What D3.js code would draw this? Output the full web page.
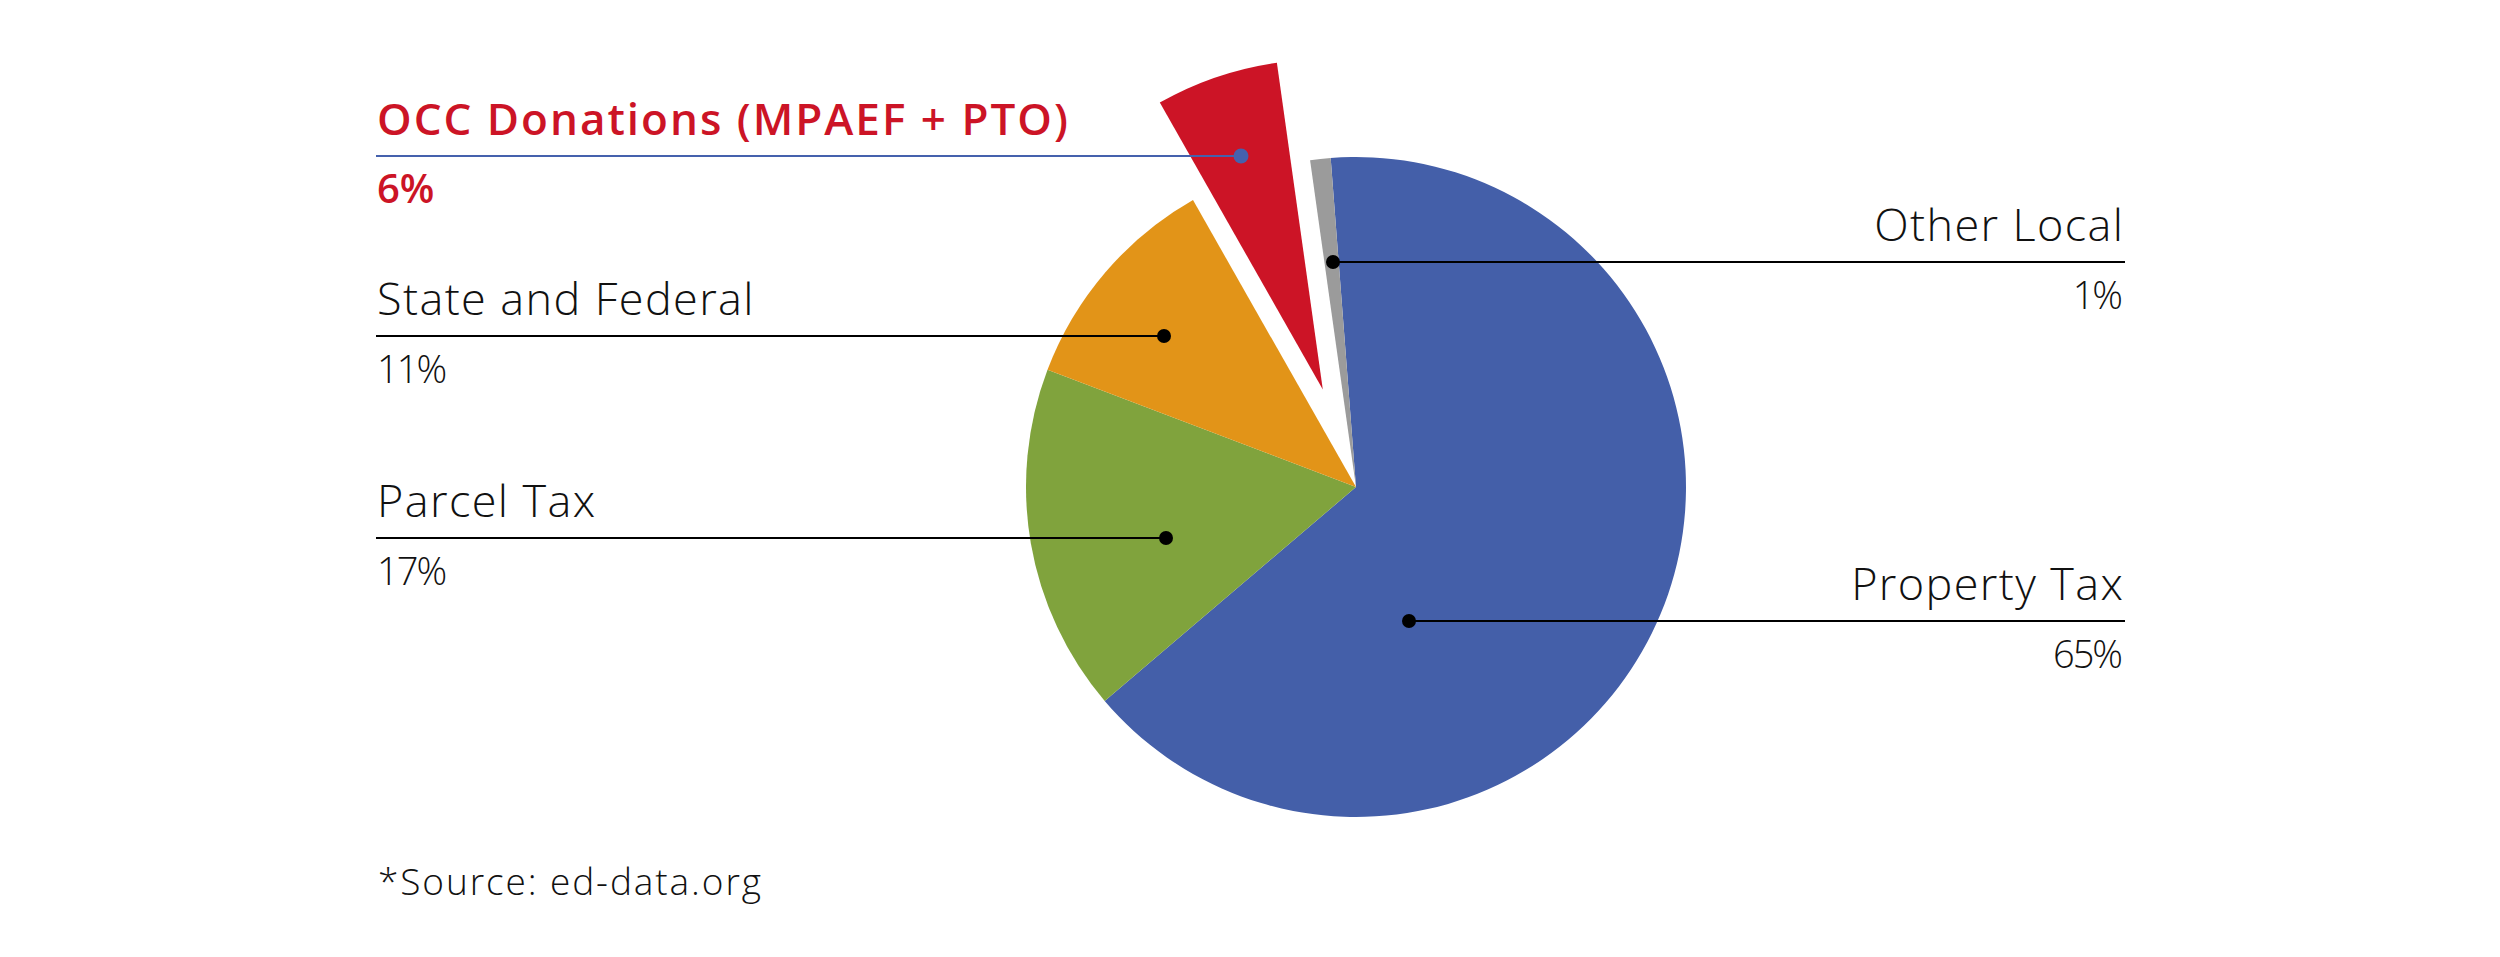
<!DOCTYPE html>
<html>
<head>
<meta charset="utf-8">
<script src="https://cdn.jsdelivr.net/npm/d3@7"></script>
<style>
  html, body { margin: 0; padding: 0; background: #ffffff; }
  svg { display: block; }
</style>
</head>
<body>
<svg id="chart" width="2500" height="957"></svg>
<script>
// ---- data ----
const categories = ["Property Tax", "Parcel Tax", "State and Federal", "OCC Donations (MPAEF + PTO)", "Other Local"];
const values = [65, 17, 11, 6, 1];
const percentLabels = ["65%", "17%", "11%", "6%", "1%"];
const sliceColors = ["#445fa9", "#80a33d", "#e29418", "#cc1426", "#9b9b9b"];
const sourceNote = "*Source: ed-data.org";

// ---- layout ----
const W = 2500, H = 957;
const cx = 1356, cy = 487, R = 330;
const startDeg = -4.4;
const explodedIndex = 3;
const explodeDist = 103;
const leftX = 376, rightX = 2125;
const labelLayout = {
  "Property Tax": { side: "right", lineY: 621, dotX: 1409 },
  "Other Local": { side: "right", lineY: 262, dotX: 1333 },
  "Parcel Tax": { side: "left", lineY: 538, dotX: 1166 },
  "State and Federal": { side: "left", lineY: 336, dotX: 1164 },
  "OCC Donations (MPAEF + PTO)": { side: "left", lineY: 156, dotX: 1241, highlight: true }
};

const svg = d3.select("#chart");
const fontFamily = "'Open Sans', Lato, 'Noto Sans', sans-serif";

const data = categories.map((c, i) => ({ name: c, value: values[i], pct: percentLabels[i], color: sliceColors[i], i }));

const start = startDeg * Math.PI / 180;
const pie = d3.pie().sort(null).value(d => d.value).startAngle(start).endAngle(start + 2 * Math.PI);
const arc = d3.arc().innerRadius(0).outerRadius(R);
const arcs = pie(data);

const g = svg.append("g").attr("transform", `translate(${cx},${cy})`);
g.selectAll("path.slice")
  .data(arcs)
  .join("path")
  .attr("class", "slice")
  .attr("d", arc)
  .attr("fill", d => d.data.color)
  .attr("transform", d => {
    if (d.index !== explodedIndex) return null;
    const a = (d.startAngle + d.endAngle) / 2;
    return `translate(${explodeDist * Math.sin(a)},${-explodeDist * Math.cos(a)})`;
  });

// ---- leader lines & labels ----
const labelsG = svg.append("g");
data.forEach(d => {
  const L = labelLayout[d.name];
  const hi = !!L.highlight;
  const lineColor = hi ? "#4561ad" : "#000000";
  const x1 = L.side === "left" ? leftX : L.dotX;
  const x2 = L.side === "left" ? L.dotX : rightX;
  labelsG.append("line")
    .attr("x1", x1).attr("x2", x2)
    .attr("y1", L.lineY).attr("y2", L.lineY)
    .attr("stroke", lineColor)
    .attr("stroke-width", 2);
  labelsG.append("circle")
    .attr("cx", L.dotX).attr("cy", L.lineY)
    .attr("r", hi ? 7.5 : 7)
    .attr("fill", lineColor);

  const ls = hi ? 2 : 1.4;
  const tx = L.side === "left" ? leftX + 1 : rightX - 2 + ls;
  const anchor = L.side === "left" ? "start" : "end";
  labelsG.append("text")
    .attr("x", tx)
    .attr("y", L.lineY - 21)
    .attr("text-anchor", anchor)
    .attr("font-family", fontFamily)
    .attr("font-size", hi ? 44 : 45)
    .attr("font-weight", hi ? 600 : 300)
    .attr("letter-spacing", ls)
    .attr("fill", hi ? "#cc1426" : "#111111")
    .text(d.name);
  const tx2 = L.side === "left" ? leftX + 1 : rightX - 2 - 2;
  labelsG.append("text")
    .attr("x", tx2)
    .attr("y", L.lineY + 47)
    .attr("text-anchor", anchor)
    .attr("font-family", fontFamily)
    .attr("font-size", hi ? 40 : 38)
    .attr("font-weight", hi ? 600 : 300)
    .attr("fill", hi ? "#cc1426" : "#111111")
    .attr("letter-spacing", hi ? 0 : -2)
    .text(d.pct);
});

svg.append("text")
  .attr("x", leftX + 2)
  .attr("y", 895)
  .attr("font-family", fontFamily)
  .attr("font-size", 37)
  .attr("font-weight", 300)
  .attr("letter-spacing", 1.9)
  .attr("fill", "#111111")
  .text(sourceNote);
</script>
</body>
</html>
